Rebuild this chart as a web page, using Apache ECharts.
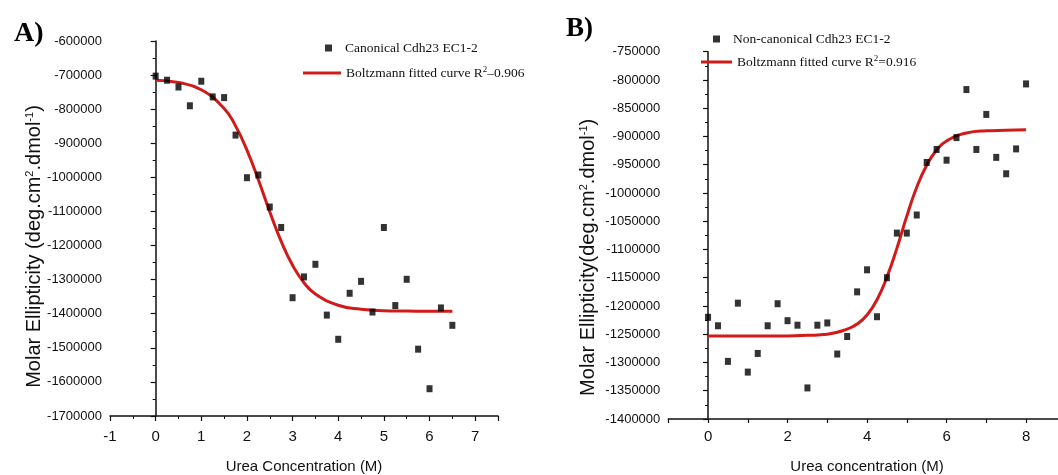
<!DOCTYPE html>
<html>
<head>
<meta charset="utf-8">
<script src="https://cdn.jsdelivr.net/npm/echarts@6/dist/echarts.min.js"></script>
<style>
html,body{margin:0;padding:0;background:#fff;}
#chart{width:1058px;height:475px;}
</style>
</head>
<body>
<div id="chart"></div>
<script>
// ---- Panel A data (Canonical Cdh23 EC1-2) ----
const ureaA = [0,0.25,0.5,0.75,1,1.25,1.5,1.75,2,2.25,2.5,2.75,3,3.25,3.5,3.75,4,4.25,4.5,4.75,5,5.25,5.5,5.75,6,6.25,6.5];
const ellipA = [-703000,-715000,-735000,-790000,-718000,-764000,-766000,-876000,-1001000,-993000,-1087000,-1147000,-1353000,-1292000,-1255000,-1404000,-1475000,-1340000,-1305000,-1395000,-1147000,-1376000,-1299000,-1504000,-1620000,-1383000,-1434000];
const fitXA = [0,0.5,1,1.5,1.75,2,2.25,2.5,2.75,3,3.25,3.5,4,4.5,5,5.5,6,6.5];
const fitYA = [-715000,-722000,-743000,-798000,-849000,-920000,-1007000,-1101000,-1188000,-1258000,-1309000,-1342000,-1375000,-1387000,-1391000,-1392000,-1393000,-1393000];

// ---- Panel B data (Non-canonical Cdh23 EC1-2) ----
const ureaB = [0,0.25,0.5,0.75,1,1.25,1.5,1.75,2,2.25,2.5,2.75,3,3.25,3.5,3.75,4,4.25,4.5,4.75,5,5.25,5.5,5.75,6,6.25,6.5,6.75,7,7.25,7.5,7.75,8];
const ellipB = [-1220000,-1235000,-1298000,-1195000,-1317000,-1284000,-1235000,-1196000,-1226000,-1234000,-1345000,-1234000,-1230000,-1285000,-1254000,-1175000,-1136000,-1219000,-1150000,-1071000,-1071000,-1039000,-946000,-923000,-942000,-902000,-817000,-923000,-861000,-937000,-966000,-922000,-807000];
const fitXB = [0,1,2,2.5,3,3.5,3.75,4,4.25,4.5,4.75,5,5.25,5.5,5.75,6,6.5,7,7.5,8];
const fitYB = [-1253000,-1253000,-1253000,-1252000,-1250000,-1241000,-1232000,-1216000,-1189000,-1149000,-1098000,-1041000,-990000,-951000,-924000,-908000,-894000,-890000,-889000,-888000];

// ---- Labels ----
const panelLabels = ['A)', 'B)'];
const seriesNames = ['Canonical Cdh23 EC1-2', 'Boltzmann fitted curve R²–0.906', 'Non-canonical Cdh23 EC1-2', 'Boltzmann fitted curve R²=0.916'];
const xTitles = ['Urea Concentration (M)', 'Urea concentration (M)'];
const yTitles = ['Molar Ellipticity (deg.cm{sup|2}.dmol{sup|-1})', 'Molar Ellipticity(deg.cm{sup|2}.dmol{sup|-1})'];

const pairs = (xs, ys) => xs.map((x, i) => [x, ys[i]]);

const SANS = "'Liberation Sans',Arial,sans-serif";
const SERIF = "'Liberation Serif','Times New Roman',serif";
const RED = '#d11a1a';
const AX = '#111';

function legendFmt(name) {
  return name.replace('R²', 'R{sup|2}');
}
function legendText(padLeft) {
  return { fontFamily: SERIF, fontSize: 13.5, color: '#111', padding: [0, 0, 0, padLeft],
    rich: { sup: { fontFamily: SERIF, fontSize: 9, color: '#111', verticalAlign: 'top', padding: [0, 0, 7, 0] } } };
}

function yAxis(idx, min, max, interval, name, gap, shift) {
  return {
    type: 'value', gridIndex: idx, min: min, max: max, interval: interval,
    name: name, nameLocation: 'middle', nameGap: gap, nameRotate: 90, nameMoveOverlap: false,
    nameTextStyle: {
      fontFamily: SANS, fontSize: 20, color: AX, padding: [0, shift, 0, 0],
      rich: { sup: { fontFamily: SANS, fontSize: 11, color: AX, verticalAlign: 'top', padding: [0, 0, 10, 0] } }
    },
    axisLine: { show: true, lineStyle: { color: AX, width: 1.5 } },
    axisTick: { show: true, length: 5, lineStyle: { color: AX, width: 1.2 } },
    minorTick: { show: true, splitNumber: 2, length: 3, lineStyle: { color: AX, width: 1 } },
    splitLine: { show: false },
    axisLabel: { fontFamily: SANS, fontSize: 13, color: AX, margin: 8, formatter: v => String(v) }
  };
}

const chart = echarts.init(document.getElementById('chart'));
chart.setOption({
  backgroundColor: '#fff',
  animation: false,
  title: [
    { text: panelLabels[0], left: 9, top: 15, textStyle: { fontFamily: SERIF, fontWeight: 'bold', fontSize: 28, color: '#000' } },
    { text: panelLabels[1], left: 561, top: 11, textStyle: { fontFamily: SERIF, fontWeight: 'bold', fontSize: 27, color: '#000' } }
  ],
  legend: [
    { data: [{ name: seriesNames[0], icon: 'rect' }], left: 325, top: 41, padding: 0, itemWidth: 7, itemHeight: 7,
      formatter: legendFmt, textStyle: legendText(8) },
    { data: [{ name: seriesNames[1], icon: 'rect' }], left: 303, top: 65, padding: 0, itemWidth: 38, itemHeight: 3,
      formatter: legendFmt, textStyle: legendText(0) },
    { data: [{ name: seriesNames[2], icon: 'rect' }], left: 713, top: 32, padding: 0, itemWidth: 7, itemHeight: 7,
      formatter: legendFmt, textStyle: legendText(8) },
    { data: [{ name: seriesNames[3], icon: 'rect' }], left: 701, top: 54, padding: 0, itemWidth: 31, itemHeight: 3,
      formatter: legendFmt, textStyle: legendText(0) }
  ],
  grid: [
    { left: 110, width: 388, top: 41, height: 375, outerBoundsMode: 'none', containLabel: false },
    { left: 668.3, width: 397.5, top: 51.7, height: 367.3, outerBoundsMode: 'none', containLabel: false }
  ],
  xAxis: [
    {
      type: 'value', gridIndex: 0, min: -1, max: 7.5, interval: 1,
      name: xTitles[0], nameLocation: 'middle', nameGap: 43, nameMoveOverlap: false,
      nameTextStyle: { fontFamily: SANS, fontSize: 15, color: AX },
      axisLine: { show: true, onZero: false, lineStyle: { color: AX, width: 1.5 } },
      axisTick: { show: true, length: 5, lineStyle: { color: AX, width: 1.2 } },
      minorTick: { show: true, splitNumber: 2, length: 3, lineStyle: { color: AX, width: 1 } },
      splitLine: { show: false },
      axisLabel: { fontFamily: SANS, fontSize: 15, color: AX, margin: 13,
        formatter: v => (Math.abs(v - Math.round(v)) < 1e-9 ? String(Math.round(v)) : '') }
    },
    {
      type: 'value', gridIndex: 1, min: -1, max: 9, interval: 1,
      name: xTitles[1], nameLocation: 'middle', nameGap: 40, nameMoveOverlap: false,
      nameTextStyle: { fontFamily: SANS, fontSize: 15, color: AX },
      axisLine: { show: true, onZero: false, lineStyle: { color: AX, width: 1.5 } },
      axisTick: { show: true, length: 4, lineStyle: { color: AX, width: 1.2 } },
      splitLine: { show: false },
      axisLabel: { fontFamily: SANS, fontSize: 15, color: AX, margin: 10,
        formatter: v => { const r = Math.round(v); return (Math.abs(v - r) < 1e-9 && r >= 0 && r <= 8 && r % 2 === 0) ? String(r) : ''; } }
    }
  ],
  yAxis: [
    yAxis(0, -1700000, -600000, 100000, yTitles[0], 65, 36),
    yAxis(1, -1400000, -750000, 50000, yTitles[1], 69, 44)
  ],
  series: [
    { name: seriesNames[0], type: 'scatter', xAxisIndex: 0, yAxisIndex: 0, data: pairs(ureaA, ellipA),
      symbol: 'rect', symbolSize: [6, 7], itemStyle: { color: '#000' }, z: 3 },
    { name: seriesNames[1], type: 'line', xAxisIndex: 0, yAxisIndex: 0, data: pairs(fitXA, fitYA),
      smooth: 0.5, showSymbol: false, symbol: 'none', lineStyle: { color: RED, width: 3 }, itemStyle: { color: RED }, z: 2 },
    { name: seriesNames[2], type: 'scatter', xAxisIndex: 1, yAxisIndex: 1, data: pairs(ureaB, ellipB),
      symbol: 'rect', symbolSize: [6, 7], itemStyle: { color: '#000' }, z: 3 },
    { name: seriesNames[3], type: 'line', xAxisIndex: 1, yAxisIndex: 1, data: pairs(fitXB, fitYB),
      smooth: 0.5, showSymbol: false, symbol: 'none', lineStyle: { color: RED, width: 3 }, itemStyle: { color: RED }, z: 2 }
  ]
});
</script>
</body>
</html>
